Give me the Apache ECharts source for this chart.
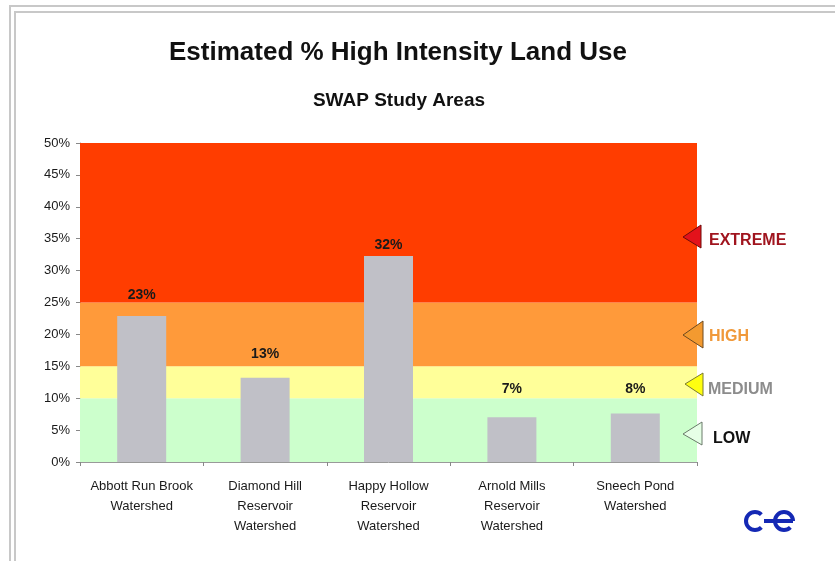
<!DOCTYPE html>
<html>
<head>
<meta charset="utf-8">
<script src="https://cdn.jsdelivr.net/npm/echarts@6/dist/echarts.min.js"></script>
<style>
html,body{margin:0;padding:0;background:#fff;}
#chart{width:835px;height:561px;}
</style>
</head>
<body>
<div id="chart"></div>
<script>
// ---- data ----
const categories = [
  'Abbott Run Brook\nWatershed',
  'Diamond Hill\nReservoir\nWatershed',
  'Happy Hollow\nReservoir\nWatershed',
  'Arnold Mills\nReservoir\nWatershed',
  'Sneech Pond\nWatershed'
];
const values = [22.9, 13.2, 32.3, 7.0, 7.6];
const yTicks = [0, 5, 10, 15, 20, 25, 30, 35, 40, 45, 50];
const bandEdges = [0, 10, 15, 25, 50];
const bandNames = ['LOW', 'MEDIUM', 'HIGH', 'EXTREME'];

// ---- styles ----
const bandColors = ['#CCFFCC', '#FFFF99', '#FF9A3A', '#FF3D00'];
const labelGap = [14, 17, 4, 21, 17];

const chart = echarts.init(document.getElementById('chart'), null, {renderer: 'canvas'});

const bandAreas = bandNames.map((n, i) => [
  {yAxis: bandEdges[i], itemStyle: {color: bandColors[i]}},
  {yAxis: bandEdges[i + 1]}
]);

const barData = values.map((v, i) => ({
  value: v,
  label: {distance: labelGap[i]}
}));

const font = 'Liberation Sans, Arial, sans-serif';

const option = {
  animation: false,
  backgroundColor: '#fff',
  title: [
    {text: 'Estimated % High Intensity Land Use', left: 393, top: 35, textAlign: 'center',
     textStyle: {fontFamily: font, fontSize: 26, fontWeight: 'bold', color: '#111'}},
    {text: 'SWAP Study Areas', left: 394, top: 86, textAlign: 'center',
     textStyle: {fontFamily: font, fontSize: 19, fontWeight: 'bold', color: '#111'}}
  ],
  grid: {left: 80, top: 143, width: 617, height: 319, containLabel: false},
  xAxis: {
    type: 'category',
    data: categories,
    axisLine: {lineStyle: {color: '#999', width: 1}},
    axisTick: {show: true, length: 4, alignWithLabel: false, lineStyle: {color: '#888'}},
    axisLabel: {interval: 0, fontFamily: font, fontSize: 13, color: '#1a1a1a', lineHeight: 20, margin: 14},
    splitLine: {show: false}
  },
  yAxis: {
    type: 'value',
    min: yTicks[0],
    max: yTicks[yTicks.length - 1],
    interval: 5,
    axisLine: {show: true, lineStyle: {color: '#999', width: 1}},
    axisTick: {show: true, length: 4, lineStyle: {color: '#888'}},
    axisLabel: {formatter: '{value}%', fontFamily: font, fontSize: 13, color: '#1a1a1a', margin: 10},
    splitLine: {show: false}
  },
  series: [
    {
      type: 'line',
      data: [],
      z: 1,
      silent: true,
      markArea: {silent: true, data: bandAreas, itemStyle: {opacity: 1}}
    },
    {
      type: 'bar',
      data: barData,
      z: 3,
      barWidth: 49,
      itemStyle: {color: '#C0C0C7'},
      label: {
        show: true,
        position: 'top',
        formatter: p => Math.round(p.value) + '%',
        fontFamily: font,
        fontSize: 14,
        fontWeight: 'bold',
        color: '#1a1a1a'
      }
    }
  ],
  graphic: [
    // frame lines
    {type: 'rect', shape: {x: 10, y: 6, width: 840, height: 600}, style: {fill: null, stroke: '#c8c8c8', lineWidth: 2}, z: 10},
    {type: 'rect', shape: {x: 15, y: 12, width: 840, height: 600}, style: {fill: null, stroke: '#c8c8c8', lineWidth: 2}, z: 10},
    // legend triangles
    {type: 'polygon', shape: {points: [[683, 237], [701, 225], [701, 248]]}, style: {fill: '#E3121B', stroke: '#6e0a0a', lineWidth: 1}, z: 10},
    {type: 'polygon', shape: {points: [[683, 335], [703, 321], [703, 348]]}, style: {fill: '#F39A30', stroke: '#6e4a20', lineWidth: 1}, z: 10},
    {type: 'polygon', shape: {points: [[685, 384], [703, 373], [703, 396]]}, style: {fill: '#FFFF10', stroke: '#7a7a30', lineWidth: 1}, z: 10},
    {type: 'polygon', shape: {points: [[683, 434], [702, 422], [702, 445]]}, style: {fill: '#E6FFE6', stroke: '#6a7a6a', lineWidth: 1}, z: 10},
    // legend labels
    {type: 'text', x: 709, y: 241, style: {text: 'EXTREME', fill: '#A0141E', font: 'bold 16px Liberation Sans, Arial, sans-serif', textVerticalAlign: 'middle'}, z: 10},
    {type: 'text', x: 709, y: 337, style: {text: 'HIGH', fill: '#F0993A', font: 'bold 16px Liberation Sans, Arial, sans-serif', textVerticalAlign: 'middle'}, z: 10},
    {type: 'text', x: 708, y: 390, style: {text: 'MEDIUM', fill: '#8C8C8C', font: 'bold 16px Liberation Sans, Arial, sans-serif', textVerticalAlign: 'middle'}, z: 10},
    {type: 'text', x: 713, y: 439, style: {text: 'LOW', fill: '#111', font: 'bold 16px Liberation Sans, Arial, sans-serif', textVerticalAlign: 'middle'}, z: 10},
    // logo
    {type: 'arc', shape: {cx: 755, cy: 521, r: 9, startAngle: -Math.PI / 4, endAngle: Math.PI / 4, clockwise: false}, style: {fill: null, stroke: '#1428B4', lineWidth: 4}, z: 10},
    {type: 'arc', shape: {cx: 784, cy: 521, r: 9, startAngle: 0, endAngle: Math.PI / 4, clockwise: false}, style: {fill: null, stroke: '#1428B4', lineWidth: 4}, z: 10},
    {type: 'line', shape: {x1: 764, y1: 521, x2: 793, y2: 521}, style: {stroke: '#1428B4', lineWidth: 4}, z: 10}
  ]
};

chart.setOption(option);
</script>
</body>
</html>
